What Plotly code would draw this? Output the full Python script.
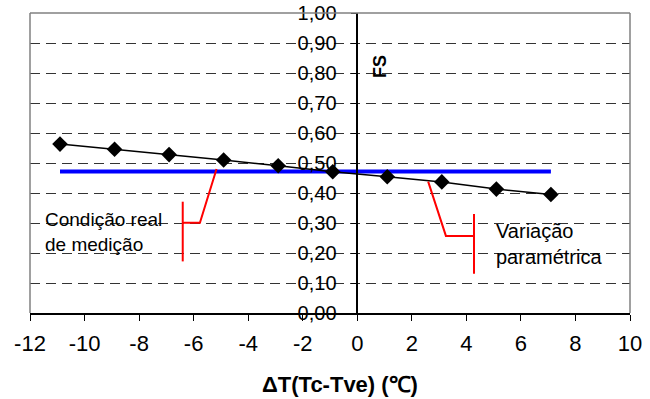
import plotly.graph_objects as go

# Temperature difference (°C) and safety factor values
delta_t = [-10.9, -8.9, -6.9, -4.9, -2.9, -0.9, 1.1, 3.1, 5.1, 7.1]
fs_values = [0.563, 0.546, 0.528, 0.510, 0.491, 0.471, 0.454, 0.437, 0.413, 0.395]

# Reference level measured at the real condition
real_fs = 0.472
real_span = [-10.9, 7.1]

x_tick_vals = [-12, -10, -8, -6, -4, -2, 0, 2, 4, 6, 8, 10]
x_tick_text = ["-12", "-10", "-8", "-6", "-4", "-2", "0", "2", "4", "6", "8", "10"]

FONT = "Liberation Sans, Arial, sans-serif"

fig = go.Figure()

fig.add_trace(go.Scatter(
    x=real_span, y=[real_fs, real_fs], mode="lines",
    line=dict(color="#0000FF", width=4), showlegend=False, hoverinfo="skip",
))
fig.add_trace(go.Scatter(
    x=delta_t, y=fs_values, mode="lines+markers",
    line=dict(color="black", width=1.5),
    marker=dict(symbol="diamond", size=12, color="black"),
    showlegend=False,
))

# Red callout brackets
left_callout = dict(x=[-5.16, -5.77, -6.40], y=[0.48, 0.301, 0.301])
left_bar = dict(x=[-6.40, -6.40], y=[0.371, 0.172])
right_callout = dict(x=[2.60, 3.25, 4.28], y=[0.438, 0.257, 0.257])
right_bar = dict(x=[4.28, 4.28], y=[0.330, 0.131])
for seg in (left_callout, left_bar, right_callout, right_bar):
    fig.add_trace(go.Scatter(
        x=seg["x"], y=seg["y"], mode="lines",
        line=dict(color="#FF0000", width=2), showlegend=False, hoverinfo="skip",
    ))

# Plot frame (top, left, right) in grey
frame = dict(color="#808080", width=1.5)
fig.add_shape(type="line", xref="paper", yref="paper", x0=0, x1=1, y0=1, y1=1, line=frame)
fig.add_shape(type="line", xref="paper", yref="paper", x0=0, x1=0, y0=0, y1=1, line=frame)
fig.add_shape(type="line", xref="paper", yref="paper", x0=1, x1=1, y0=0, y1=1, line=frame)

fig.add_annotation(
    x=-11.51, y=0.271, xref="x", yref="y", text="Condição real<br>de medição",
    showarrow=False, xanchor="left", yanchor="middle", align="left",
    font=dict(family=FONT, size=19, color="black"),
)
fig.add_annotation(
    x=5.01, y=0.23, xref="x", yref="y", text="Variação<br>paramétrica",
    showarrow=False, xanchor="left", yanchor="middle", align="left",
    font=dict(family=FONT, size=20, color="black"),
)
fig.add_annotation(
    x=0.83, y=0.823, xref="x", yref="y", text="<b>FS</b>", textangle=-90,
    showarrow=False, xanchor="center", yanchor="middle",
    font=dict(family=FONT, size=18, color="black"),
)
fig.add_annotation(
    x=0.517, y=-0.239, xref="paper", yref="paper", text="<b>ΔT(Tc-Tve) (℃)</b>",
    showarrow=False, xanchor="center", yanchor="middle",
    font=dict(family=FONT, size=22, color="black"),
)

fig.update_layout(
    width=650, height=399,
    margin=dict(l=30, r=20, t=13, b=86),
    paper_bgcolor="white", plot_bgcolor="white",
    separators=",.",
    font=dict(family=FONT, size=19, color="black"),
    xaxis=dict(
        range=[-12, 10], tickvals=x_tick_vals, ticktext=x_tick_text,
        showgrid=False, zeroline=False, automargin=False,
        showline=True, linecolor="black", linewidth=1.5,
        ticks="outside", ticklen=6, tickcolor="black",
        ticklabelstandoff=4,
        tickfont=dict(size=22),
    ),
    yaxis=dict(
        range=[0, 1], dtick=0.1, tickformat=".2f",
        anchor="free", position=12 / 22, automargin=False,
        showgrid=True, gridcolor="#333333", gridwidth=1, griddash="10px,6px",
        zeroline=False,
        showline=True, linecolor="black", linewidth=1.5,
        ticks="outside", ticklen=6, tickcolor="black",
        ticklabelstandoff=10,
        tickfont=dict(size=20),
    ),
)

fig.write_html("out.html")
